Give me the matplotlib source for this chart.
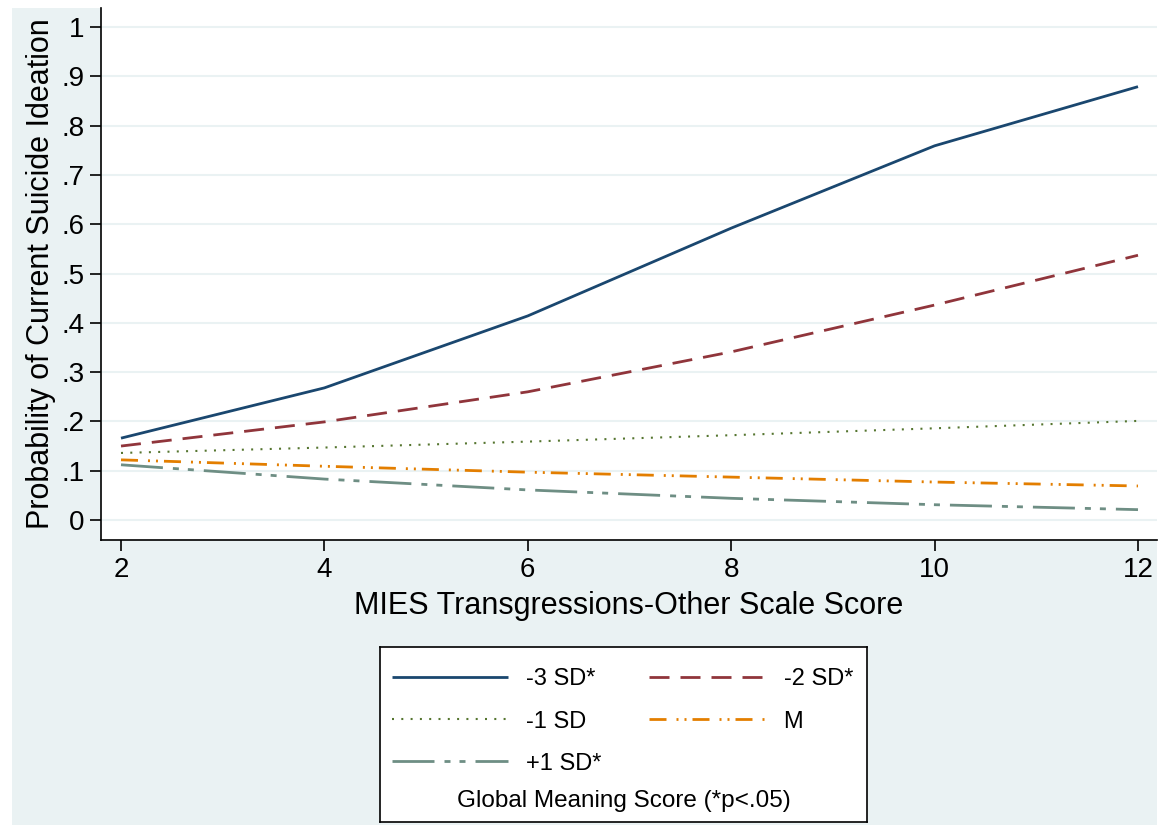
import matplotlib.pyplot as plt
from matplotlib.patches import Rectangle

plt.rcParams['font.family'] = ['Liberation Sans', 'DejaVu Sans']

# values
mies = [2, 4, 6, 8, 10, 12]
sd_m3 = [0.166, 0.268, 0.414, 0.592, 0.759, 0.879]
sd_m2 = [0.150, 0.199, 0.260, 0.341, 0.436, 0.537]
sd_m1 = [0.136, 0.147, 0.159, 0.172, 0.186, 0.201]
mean_ = [0.122, 0.109, 0.097, 0.087, 0.077, 0.069]
sd_p1 = [0.112, 0.083, 0.061, 0.044, 0.031, 0.021]

labels = ['-3 SD*', '-2 SD*', '-1 SD', 'M', '+1 SD*']
yticks = [0, .1, .2, .3, .4, .5, .6, .7, .8, .9, 1]
ytick_labels = ['0', '.1', '.2', '.3', '.4', '.5', '.6', '.7', '.8', '.9', '1']
xticks = [2, 4, 6, 8, 10, 12]

bg = '#EAF2F3'
W, H = 1166, 825
fig = plt.figure(figsize=(W / 100, H / 100), dpi=100, facecolor='white')
fig.patches.append(Rectangle((12 / W, 0), (1157 - 12) / W, 1 - 8 / H,
                             transform=fig.transFigure, facecolor=bg,
                             edgecolor='none', zorder=-10))

ax = fig.add_axes([101 / W, 1 - 540 / H, (1157 - 101) / W, (540 - 8) / H])
ax.set_facecolor('white')

# line styles (px -> pt at 100 dpi, divided by linewidth)
def dash(px_list, lw):
    return [p * 0.72 / lw for p in px_list]

lw = 2.0
styles = [
    dict(color='#1A476F', lw=lw, ls='-'),
    dict(color='#90353B', lw=lw, dashes=dash([20, 11], lw)),
    dict(color='#55752F', lw=1.5, dashes=dash([2, 7.3], 1.5)),
    dict(color='#E37E00', lw=lw, dashes=dash([17, 10, 2, 6, 2, 6], lw)),
    dict(color='#6E8E84', lw=lw, dashes=dash([42, 10, 6, 9, 6, 10], lw)),
]
series = [sd_m3, sd_m2, sd_m1, mean_, sd_p1]
handles = []
for vals, st, lab in zip(series, styles, labels):
    h, = ax.plot(mies, vals, label=lab, solid_capstyle='butt',
                 dash_capstyle='butt', **st)
    handles.append(h)

ax.set_xlim(2 - 20 / 101.7, 12 + 19 / 101.7)
ax.set_ylim(-20 / 493, 1 + 19 / 493)
ax.set_yticks(yticks)
ax.set_yticklabels(ytick_labels)
ax.set_xticks(xticks)
ax.grid(axis='y', color=bg, lw=1.5)
ax.set_axisbelow(True)
for s in ['top', 'right']:
    ax.spines[s].set_visible(False)
for s in ['left', 'bottom']:
    ax.spines[s].set_linewidth(1.2)
ax.tick_params(axis='both', labelsize=20, length=8, width=1.2, pad=4)
ax.set_ylabel('Probability of Current Suicide Ideation', fontsize=22, labelpad=4)
ax.set_xlabel('MIES Transgressions-Other Scale Score', fontsize=22, labelpad=6)

# legend box
lax = fig.add_axes([380 / W, 1 - 822 / H, (867 - 380) / W, (822 - 647) / H])
lax.set_xticks([])
lax.set_yticks([])
lax.set_facecolor('white')
for s in lax.spines.values():
    s.set_linewidth(1.2)
# row-wise order: -3, -2 / -1, M / +1
order = [0, 2, 4, 1, 3]
leg = lax.legend(handles=[handles[i] for i in order], ncol=2, loc='upper left',
                 frameon=False, fontsize=17, handlelength=4.9,
                 handletextpad=0.8, columnspacing=2.0, labelspacing=0.85,
                 bbox_to_anchor=(0.0, 0.945), borderaxespad=0.1)
lax.text(0.5, 0.118, 'Global Meaning Score (*p<.05)', transform=lax.transAxes,
         ha='center', va='center', fontsize=17.5)

fig.savefig('out.png', dpi=100, facecolor='white')
